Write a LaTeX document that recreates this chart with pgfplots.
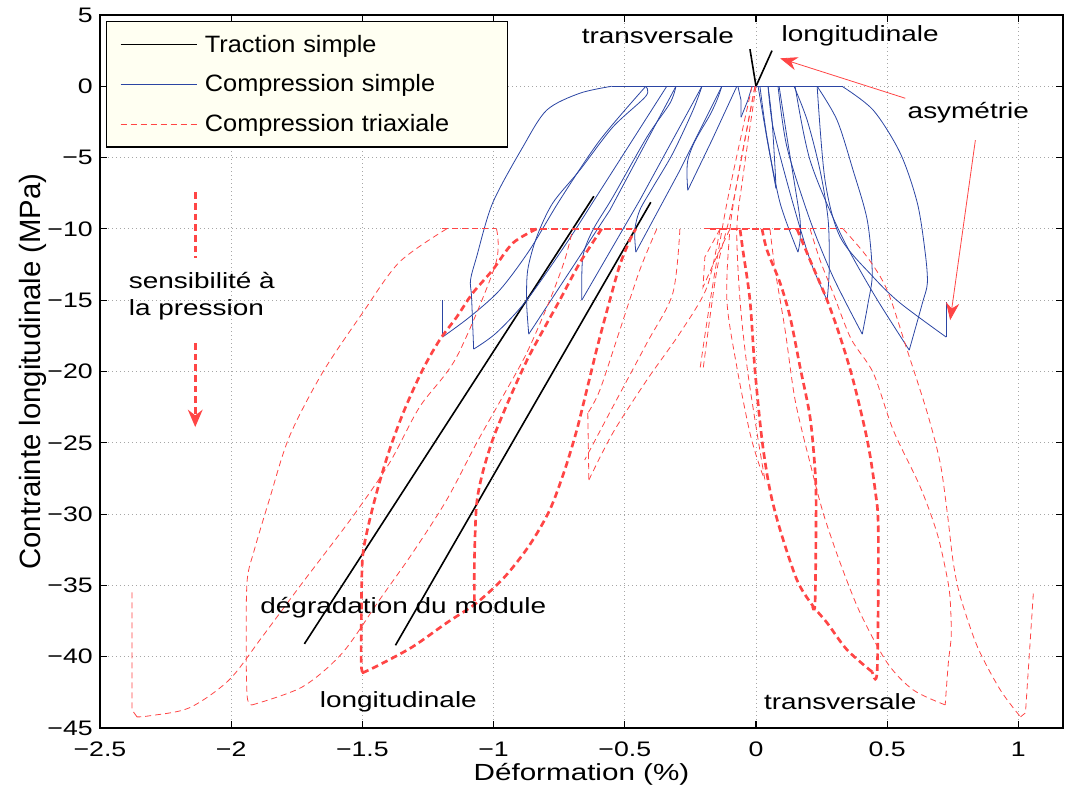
\documentclass[border=0pt]{standalone}
\usepackage{fontspec}
\setmainfont{Liberation Sans}[FakeStretch=1.27]
\newfontfamily\legfont{Liberation Sans}[FakeStretch=1.07]
\newfontfamily\labfont{Liberation Sans}
\usepackage{pgfplots}
\pgfplotsset{compat=1.18}
\usetikzlibrary{calc,arrows.meta}

\definecolor{csblue}{rgb}{0.17,0.27,0.64}
\definecolor{ctred}{rgb}{1,0.27,0.27}
\definecolor{legbg}{rgb}{1,1,0.95}

\pgfplotsset{
  trac/.style={black, line width=1.2pt},
  comp/.style={csblue, line width=0.6pt, forget plot},
  tri/.style={ctred, line width=0.6pt, dash pattern=on 4.5pt off 3pt, forget plot},
  trib/.style={ctred, line width=2pt, dash pattern=on 5pt off 3pt, forget plot},
}
\newcommand{\annfont}{\fontsize{16.5}{20}\selectfont}

\begin{document}
\begin{tikzpicture}
\begin{axis}[
  scale only axis,
  width=722.25pt, height=534.75pt,
  xmin=-2.5, xmax=1.17, ymin=-45, ymax=5,
  xtick={-2.5,-2,-1.5,-1,-0.5,0,0.5,1},
  xticklabels={−2.5,−2,−1.5,−1,−0.5,0,0.5,1},
  ytick={-45,-40,-35,-30,-25,-20,-15,-10,-5,0,5},
  yticklabels={−45,−40,−35,−30,−25,−20,−15,−10,−5,0,5},
  tick align=inside, tick pos=both,
  major tick length=5pt,
  axis line style={line width=0.9pt},
  every tick/.style={black, line width=0.8pt},
  grid=major,
  grid style={gray!70, line width=0.6pt, dash pattern=on 0.6pt off 2.4pt},
  tick label style={font=\fontsize{15.75}{19}\selectfont, inner sep=1pt},
  xticklabel style={yshift=-9.5pt},
  yticklabel style={xshift=-4.25pt},
  xlabel={Déformation (\%)},
  ylabel={Contrainte longitudinale (MPa)},
  xlabel style={font=\fontsize{17.5}{21}\selectfont, at={(axis description cs:0.5,-0.065)}, anchor=center},
  ylabel style={font=\labfont\fontsize{22}{26}\selectfont, at={(axis description cs:-0.0696,0.5)}, anchor=center},
  legend style={at={(rel axis cs:0.0065,0.9915)}, anchor=north west,
    fill=legbg, draw=black, line width=0.8pt,
    font=\legfont\fontsize{17.75}{21}\selectfont,
    inner xsep=10pt, inner ysep=8pt, row sep=11.5pt, column sep=4pt,
    nodes={text width=215pt, align=left}},
  legend cell align=left,
  legend image code/.code={\draw[#1] plot coordinates {(0pt,0pt) (57pt,0pt)};},
]
\addlegendimage{black, line width=0.6pt}
\addlegendentry{Traction simple}
\addlegendimage{csblue, line width=0.6pt}
\addlegendentry{Compression simple}
\addlegendimage{ctred, line width=0.6pt, dash pattern=on 4.5pt off 3pt}
\addlegendentry{Compression triaxiale}

% traction simple
\addplot[trac, forget plot] coordinates {(0,0) (-0.023,2.6)};
\addplot[trac, forget plot] coordinates {(0,0) (0.061,2.5)};
\addplot[trac, forget plot] coordinates {(-1.721,-39.1) (-0.618,-7.71)};
\addplot[trac, forget plot] coordinates {(-1.374,-39.2) (-0.401,-8.13)};

% compression simple, transversal side
\addplot[comp] coordinates {(-0.55,0) (0,0)};
\addplot[comp] coordinates {(0,0) (0.328,0)};
\addplot[comp] coordinates {(-0.069,0) (-0.057,-0.98) (-0.057,-2.17)};
\addplot[comp] coordinates {(-0.057,-2.17) (-0.031,-0.98) (-0.015,0)};
\addplot[comp, smooth] coordinates {(-0.130,0) (-0.149,-0.98) (-0.176,-2.03) (-0.214,-3.22) (-0.240,-4.13) (-0.260,-5.19) (-0.263,-6.24) (-0.260,-7.29)};
\addplot[comp] coordinates {(-0.260,-7.29) (-0.168,-3.78) (-0.073,0)};
\addplot[comp, smooth] coordinates {(-0.206,0) (-0.240,-1.68) (-0.317,-4.70) (-0.393,-7.08) (-0.443,-8.69) (-0.462,-10.09) (-0.458,-11.63)};
\addplot[comp] coordinates {(-0.458,-11.63) (-0.290,-5.89) (-0.130,0)};
\addplot[comp, smooth] coordinates {(-0.305,0) (-0.328,-1.19) (-0.416,-3.57) (-0.546,-7.78) (-0.622,-10.09) (-0.660,-11.98) (-0.664,-15.00)};
\addplot[comp] coordinates {(-0.664,-15.0) (-0.443,-7.99) (-0.206,0)};
\addplot[comp, smooth] coordinates {(-0.420,0) (-0.420,-0.70) (-0.546,-2.87) (-0.672,-5.89) (-0.775,-8.20) (-0.836,-10.58) (-0.870,-12.89) (-0.874,-15.21) (-0.866,-17.38)};
\addplot[comp] coordinates {(-0.866,-17.38) (-0.557,-8.69) (-0.305,0)};
\addplot[comp, smooth] coordinates {(-0.550,0) (-0.672,-0.49) (-0.798,-1.68) (-0.889,-4.27) (-1.004,-8.20) (-1.065,-11.98) (-1.088,-13.59) (-1.084,-14.79) (-1.076,-18.43)};
\addplot[comp, smooth] coordinates {(-1.076,-18.43) (-0.99,-17.3) (-0.874,-15.0) (-0.722,-11.0) (-0.60,-7.5) (-0.34,0)};
\addplot[comp] coordinates {(-1.195,-15.0) (-1.195,-17.59)};
\addplot[comp, smooth] coordinates {(-1.195,-17.59) (-1.092,-16.19) (-0.977,-14.30) (-0.863,-11.49) (-0.748,-7.99) (-0.595,-3.78) (-0.420,0)};

% compression simple, longitudinal side
\addplot[comp, smooth] coordinates {(0.046,0) (0.061,-2.38) (0.073,-5.89) (0.076,-7.15)};
\addplot[comp] coordinates {(0.076,-7.15) (0.040,-3.5) (0.008,0)};
\addplot[comp, smooth] coordinates {(0.088,0) (0.118,-3.57) (0.149,-7.08) (0.168,-9.39) (0.168,-10.79) (0.160,-11.63)};
\addplot[comp, smooth] coordinates {(0.160,-11.63) (0.092,-8.20) (0.042,-3.57) (0.015,0)};
\addplot[comp, smooth] coordinates {(0.145,0) (0.195,-2.38) (0.244,-5.89) (0.275,-9.39) (0.279,-12.89) (0.271,-15.0)};
\addplot[comp, smooth] coordinates {(0.271,-15.0) (0.206,-12.19) (0.130,-7.50) (0.065,-2.87) (0.046,0)};
\addplot[comp, smooth] coordinates {(0.233,0) (0.309,-2.38) (0.370,-5.89) (0.424,-9.39) (0.443,-13.10) (0.427,-15.21) (0.405,-17.38)};
\addplot[comp, smooth] coordinates {(0.405,-17.38) (0.294,-13.38) (0.206,-9.39) (0.118,-4.27) (0.084,0)};
\addplot[comp, smooth] coordinates {(0.328,0) (0.447,-1.68) (0.550,-4.70) (0.615,-8.20) (0.645,-11.70) (0.653,-13.80) (0.634,-15.21) (0.584,-18.50)};
\addplot[comp, smooth] coordinates {(0.584,-18.50) (0.447,-14.51) (0.321,-10.30) (0.206,-5.19) (0.149,0)};
\addplot[comp] coordinates {(0.725,-15.14) (0.725,-17.59)};
\addplot[comp, smooth] coordinates {(0.725,-17.59) (0.550,-15.21) (0.447,-13.38) (0.321,-10.58) (0.263,-6.59) (0.233,0)};

% compression triaxiale, thin tests
\addplot[tri] coordinates {(-1.195,-10) (-0.989,-10)};
\addplot[tri] coordinates {(-0.2,-10) (0,-10)};
\addplot[tri] coordinates {(0.13,-10) (0.332,-10)};
\addplot[tri, smooth] coordinates {(-1.179,-10) (-1.359,-12.33) (-1.500,-15.91) (-1.653,-20.11) (-1.779,-24.60) (-1.855,-29.01) (-1.912,-32.52) (-1.939,-34.62) (-1.943,-38.82) (-1.939,-42.82) (-1.920,-43.38)};
\addplot[tri, smooth] coordinates {(-1.920,-43.38) (-1.729,-42.12) (-1.576,-39.73) (-1.435,-36.02) (-1.309,-32.73) (-1.179,-29.01) (-1.065,-25.02) (-0.966,-21.79) (-0.874,-18.71) (-0.786,-15.0) (-0.729,-12.19) (-0.698,-10)};
\addplot[tri, smooth] coordinates {(-0.989,-10) (-0.993,-12.5) (-1.141,-18.99) (-1.282,-22.49) (-1.397,-26.42) (-1.538,-30.20) (-1.729,-34.83) (-1.882,-38.61) (-2.008,-41.63) (-2.160,-43.59) (-2.313,-44.15) (-2.359,-44.22)};
\addplot[tri] coordinates {(-2.359,-44.22) (-2.378,-43.73) (-2.378,-35.32)};
\addplot[tri, smooth] coordinates {(-0.378,-10) (-0.443,-12.89) (-0.519,-17.10) (-0.595,-21.30) (-0.641,-22.92)};
\addplot[tri] coordinates {(-0.641,-22.92) (-0.637,-27.61)};
\addplot[tri, smooth] coordinates {(-0.637,-27.61) (-0.546,-24.32) (-0.416,-20.60) (-0.290,-17.31) (-0.187,-14.09) (-0.137,-10)};
\addplot[tri, smooth] coordinates {(-0.290,-10) (-0.317,-14.51) (-0.416,-18.01) (-0.546,-22.49) (-0.653,-26.21)};
\addplot[tri] coordinates {(-0.137,-10) (-0.195,-11.98) (-0.202,-14.09) (-0.156,-12.19) (-0.099,-10)};
\addplot[tri, smooth] coordinates {(-0.004,0) (-0.088,-8.2) (-0.149,-12.89) (-0.202,-19.9)};
\addplot[tri, smooth] coordinates {(-0.015,0) (-0.111,-8.2) (-0.176,-15.21) (-0.214,-19.9)};
\addplot[tri, smooth] coordinates {(0,0) (-0.023,-2.87) (-0.050,-6.38) (-0.073,-10) (-0.061,-15.0) (-0.034,-19.69) (0.004,-24.32) (0.034,-27.61)};
\addplot[tri, smooth] coordinates {(-0.004,0) (-0.034,-2.87) (-0.069,-6.38) (-0.099,-10) (-0.111,-15.0) (-0.073,-19.69) (-0.023,-24.32) (0.015,-26.7) (0.034,-27.61)};
\addplot[tri, smooth] coordinates {(0.206,-10) (0.244,-12.19) (0.294,-14.51) (0.362,-17.70) (0.447,-20.11) (0.523,-24.11) (0.626,-28.1) (0.691,-31.4) (0.729,-34.5) (0.740,-36.02) (0.744,-38.5) (0.733,-40.43) (0.721,-43.38)};
\addplot[tri, smooth] coordinates {(0.721,-43.38) (0.599,-42.33) (0.500,-40.43) (0.397,-36.93) (0.321,-33.43) (0.256,-29.92) (0.206,-26.42) (0.149,-22.0) (0.111,-17.10) (0.073,-12.89) (0.053,-10)};
\addplot[tri, smooth] coordinates {(0.332,-10) (0.424,-11.98) (0.500,-14.30) (0.576,-18.50) (0.653,-22.92) (0.702,-26.42) (0.729,-29.92) (0.752,-33.43) (0.779,-35.81) (0.844,-39.31) (0.931,-42.33) (1.008,-44.22)};
\addplot[tri] coordinates {(1.008,-44.22) (1.027,-43.94) (1.057,-35.53)};

% compression triaxiale, thick test
\addplot[trib] coordinates {(-0.863,-10) (-0.458,-10)};
\addplot[trib] coordinates {(-0.176,-10) (0.168,-10)};
\addplot[trib, smooth] coordinates {(-0.836,-10) (-0.927,-11.0) (-1.004,-12.89) (-1.080,-14.51) (-1.141,-16.19) (-1.206,-17.80) (-1.271,-19.90) (-1.340,-22.70) (-1.397,-25.51) (-1.443,-28.31) (-1.481,-31.11) (-1.500,-33.22) (-1.504,-37.42) (-1.504,-40.71) (-1.492,-41.14)};
\addplot[trib, smooth] coordinates {(-0.588,-10) (-0.672,-12.40) (-0.748,-15.0) (-0.805,-16.89) (-0.863,-18.85) (-0.908,-20.60) (-0.958,-22.70) (-1.004,-24.81) (-1.042,-27.12) (-1.065,-29.36) (-1.073,-33.22) (-1.073,-36.23)};
\addplot[trib, smooth] coordinates {(-1.500,-41.14) (-1.435,-40.57) (-1.309,-39.31) (-1.179,-37.63) (-1.065,-36.23) (-0.958,-34.41) (-0.863,-32.17) (-0.786,-29.71) (-0.729,-26.91) (-0.683,-24.11) (-0.645,-21.30) (-0.603,-18.15) (-0.557,-15.0) (-0.519,-12.54) (-0.481,-10.79) (-0.458,-10)};
\addplot[trib, smooth] coordinates {(0.023,-10) (0.042,-11.49) (0.092,-13.80) (0.130,-16.19) (0.168,-19.69) (0.206,-23.20) (0.225,-26.91) (0.229,-29.50) (0.225,-36.23) (0.214,-36.37)};
\addplot[trib, smooth] coordinates {(0.156,-10) (0.206,-12.19) (0.271,-15.0) (0.321,-17.59) (0.370,-20.60) (0.424,-24.81) (0.454,-28.31) (0.466,-31.11) (0.462,-40.92) (0.443,-41.07)};
\addplot[trib, smooth] coordinates {(0.443,-41.07) (0.347,-39.52) (0.271,-37.63) (0.214,-36.37) (0.156,-34.62) (0.092,-31.11) (0.053,-28.31) (0.023,-24.81) (-0.004,-19.90) (-0.023,-15.0) (-0.050,-11.49) (-0.061,-10)};

% annotations
\path (axis cs:-0.374,3.57) node[font=\annfont] {transversale};
\path (axis cs:0.397,3.57) node[font=\annfont] {longitudinale};
\path (axis cs:0.809,-1.82) node[font=\annfont] {asymétrie};
\path (axis cs:-2.408,-14.7) node[anchor=west, align=left, font=\annfont] {sensibilité à\\la pression};
\path (axis cs:-1.344,-36.58) node[font=\annfont] {dégradation du module};
\path (axis cs:-1.363,-43.17) node[font=\annfont] {longitudinale};
\path (axis cs:0.321,-43.17) node[font=\annfont] {transversale};
\draw[ctred, line width=0.6pt, -{Stealth[length=13pt,width=10pt]}] (axis cs:0.569,-0.84) -- (axis cs:0.092,1.96);
\draw[ctred, line width=0.6pt, -{Stealth[length=13pt,width=10pt]}] (axis cs:0.836,-3.78) -- (axis cs:0.740,-16.40);
\draw[ctred, line width=2pt, dash pattern=on 5pt off 3pt] (axis cs:-2.137,-7.43) -- (axis cs:-2.137,-12.05);
\draw[ctred, line width=2pt, dash pattern=on 5pt off 3pt, -{Stealth[length=13pt,width=11pt]}] (axis cs:-2.137,-18.01) -- (axis cs:-2.137,-23.9);
\end{axis}
\pgfresetboundingbox
\path ($(current axis.south west)+(-75pt,-48.75pt)$) rectangle ($(current axis.north east)+(2.25pt,11.25pt)$);
\end{tikzpicture}
\end{document}
